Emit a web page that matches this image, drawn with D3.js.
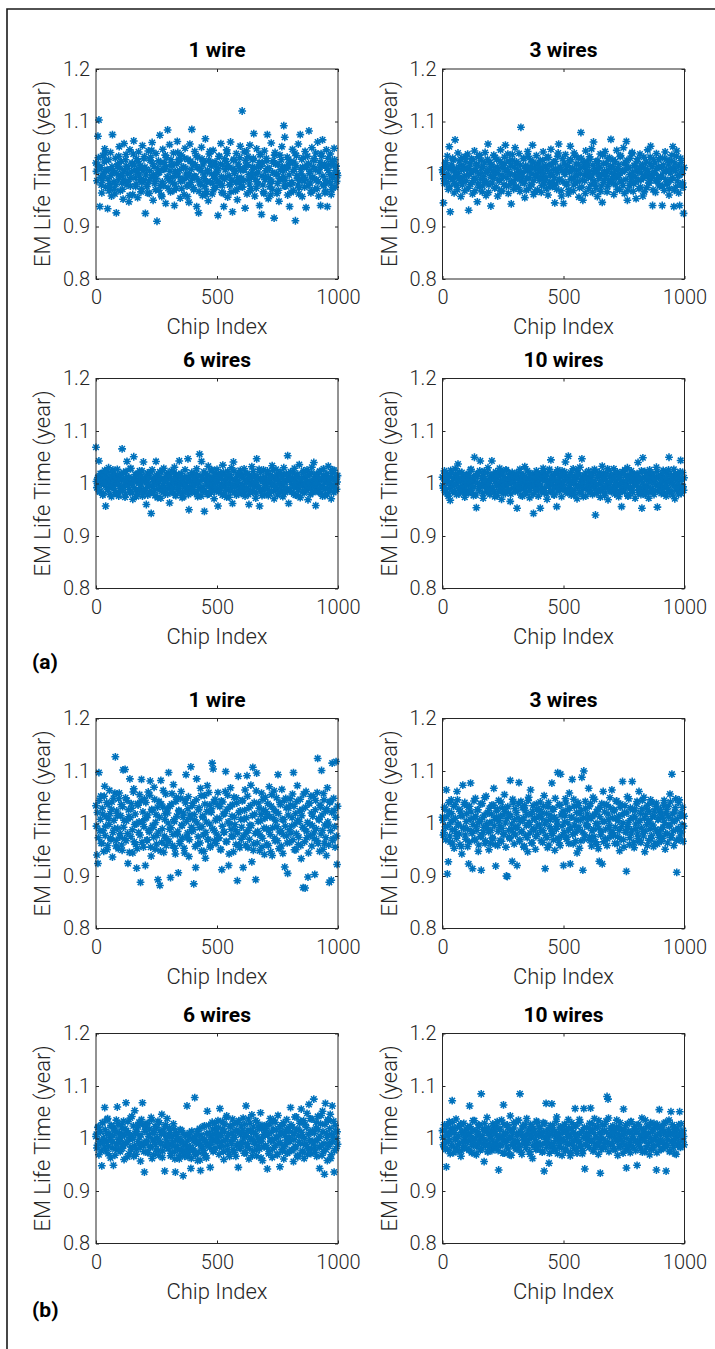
<!DOCTYPE html>
<html>
<head>
<meta charset="utf-8">
<script src="https://cdn.jsdelivr.net/npm/d3@7"></script>
<style>
  body { margin: 0; background: #fff; }
  svg text { font-family: Roboto, "Liberation Sans", Arial, sans-serif; }
</style>
</head>
<body>
<svg id="fig" width="715" height="1349"></svg>
<script>
// ---- data ----
// every panel: one value per 2 chips, kept as two runs
// (chips 0,4,8,... and chips 2,6,10,...)
const panelTitles = ['1 wire', '3 wires', '6 wires', '10 wires'];
const figureLabels = ['(a)', '(b)'];
const yTicks = [0.8, 0.9, 1, 1.1, 1.2];
const xTicks = [0, 500, 1000];
const chipStep = 4;
const chipOffset = [0, 2];

// (a) 1 wire
const a1 = [
  1.021,0.987,1.072,1.103,0.938,1.012,0.964,1.035,0.996,1.048,0.975,1.006,0.934,1.027,0.982,1.041,0.958,1.075,1.003,0.971,1.030,0.926,1.015,0.990,1.052,
  0.968,1.024,1.001,0.952,1.058,0.985,1.037,0.979,1.011,0.947,1.046,0.993,1.019,0.961,1.063,1.008,0.976,1.029,0.955,1.042,0.998,1.016,0.972,1.054,0.989,
  1.033,0.925,1.009,0.981,1.044,0.963,1.026,0.994,1.060,0.950,1.014,0.986,1.039,0.910,1.002,0.969,1.074,1.021,0.957,1.047,0.978,1.010,0.944,1.031,1.084,
  0.992,1.056,0.966,1.018,0.983,1.040,0.940,1.005,0.973,1.062,0.996,1.025,0.954,1.036,0.988,1.013,0.961,1.049,1.000,0.977,1.028,0.946,1.057,0.984,1.085,
  1.020,0.970,1.043,0.995,0.938,1.032,0.926,1.011,0.980,1.051,0.959,1.024,0.991,1.067,0.967,1.007,0.949,1.038,0.985,1.015,0.962,1.045,0.997,1.023,0.975,
  1.004,0.921,1.034,0.982,1.058,0.965,1.017,0.938,1.029,0.993,1.046,0.956,1.012,0.979,1.061,0.988,0.928,1.026,1.001,0.968,1.039,0.951,1.019,0.984,1.053,
  0.976,1.120,1.008,1.042,0.935,1.016,0.962,1.033,0.990,1.055,0.972,1.003,1.027,1.077,0.958,0.999,1.048,0.981,1.014,0.940,1.037,0.923,1.021,0.966,1.044,
  0.995,1.030,1.075,0.953,1.010,0.986,1.059,0.971,1.025,0.916,1.041,0.999,0.963,1.018,0.948,1.036,0.989,1.052,1.006,1.092,1.070,0.977,1.013,0.960,1.028,
  0.938,1.022,0.983,1.047,0.969,1.009,0.911,1.035,0.992,1.057,0.974,1.075,1.000,0.957,1.031,0.987,1.043,0.936,1.017,0.978,1.082,1.005,0.964,1.050,0.994,
  1.026,0.971,1.040,0.989,1.061,0.958,1.012,0.940,1.034,1.065,0.980,1.019,0.967,1.046,0.938,1.007,0.985,1.038,0.961,1.024,0.997,1.049,0.975,1.015,1.002
];
const a1Mid = [
  1.005,1.018,1.031,1.012,0.994,0.979,0.988,1.002,1.023,1.040,1.026,1.009,0.991,0.968,0.975,0.997,1.014,1.006,0.985,0.962,0.980,1.001,1.019,1.034,1.011,
  0.996,0.983,0.971,0.990,1.008,1.027,1.015,1.000,0.986,0.959,0.977,1.004,1.021,1.038,1.017,0.993,0.981,1.003,1.024,1.010,0.989,0.966,0.984,1.007,1.029,
  1.013,0.998,0.976,0.964,0.987,1.006,1.032,1.045,1.020,0.999,0.982,0.970,0.992,1.011,1.025,1.003,0.978,0.960,0.985,1.009,1.022,1.036,1.014,0.995,0.973,
  0.988,1.005,1.027,1.016,0.994,0.969,0.981,1.002,1.019,1.041,1.028,1.007,0.986,0.972,0.990,1.013,1.030,1.011,0.993,0.957,0.979,1.000,1.024,1.009,0.991,
  0.974,0.996,1.018,1.035,1.012,0.989,0.967,0.983,1.006,1.029,1.017,0.998,0.976,0.961,0.985,1.004,1.026,1.043,1.021,1.000,0.982,0.970,0.992,1.015,1.003,
  0.987,1.010,1.033,1.019,0.995,0.978,0.963,0.990,1.008,1.024,1.039,1.016,0.997,0.980,0.966,0.988,1.011,1.028,1.005,0.984,0.971,0.993,1.014,1.031,1.007,
  0.992,0.975,0.987,1.009,1.026,1.044,1.018,0.999,0.981,0.968,0.994,1.013,1.030,1.012,0.990,0.973,0.985,1.004,1.022,1.037,1.015,0.996,0.979,0.963,0.989,
  1.006,1.025,1.011,0.993,0.976,0.960,0.986,1.003,1.021,1.036,1.019,1.001,0.982,0.969,0.991,1.008,1.027,1.014,0.995,0.977,0.988,1.010,1.032,1.017,0.998,
  0.980,0.965,0.984,1.005,1.023,1.040,1.016,0.997,0.979,0.962,0.987,1.009,1.028,1.013,0.994,0.975,0.990,1.012,1.034,1.020,1.001,0.983,0.968,0.992,1.014,
  1.029,1.008,0.989,0.972,0.985,1.004,1.022,1.039,1.015,0.996,0.978,0.964,0.988,1.011,1.030,1.018,0.999,0.981,0.970,0.993,1.016,1.027,1.006,0.986,0.997
];
// (a) 3 wires
const a3 = [
  1.008,0.945,0.982,1.021,0.996,1.034,0.971,1.052,0.928,1.013,0.989,1.027,0.964,1.065,1.002,0.978,1.040,0.993,1.016,0.957,1.031,0.986,1.009,0.968,1.024,
  0.997,1.038,0.931,1.011,0.980,1.029,0.962,1.005,1.044,0.990,1.019,0.947,1.033,0.975,1.001,1.026,0.966,1.014,0.984,1.041,0.959,1.007,1.057,0.979,1.022,
  0.939,1.015,0.992,1.036,0.973,1.004,1.028,0.958,1.010,0.987,1.046,0.969,1.018,0.995,1.032,1.055,0.977,1.009,0.963,1.025,0.999,0.943,1.037,0.983,1.013,
  1.050,0.976,1.020,0.994,1.039,0.967,1.089,1.003,0.985,1.030,0.955,1.016,0.991,1.043,0.972,1.008,1.027,0.980,1.055,0.961,1.012,0.998,1.035,0.970,1.019,
  0.988,1.026,0.965,1.006,1.042,0.981,1.014,0.993,1.031,0.960,1.017,0.976,1.047,1.000,0.984,1.023,0.945,1.010,0.971,1.034,1.057,0.989,1.012,0.958,1.029,
  0.944,1.003,1.037,0.979,1.015,0.962,1.025,1.053,0.990,1.008,0.968,1.040,0.983,1.019,0.997,1.031,0.956,1.011,1.079,0.975,0.950,1.022,0.987,1.044,1.002,
  1.016,0.972,1.033,0.993,1.048,0.965,1.061,1.007,0.981,1.024,0.957,1.012,0.996,1.038,0.977,0.946,1.020,0.988,1.043,1.001,0.966,1.029,0.984,1.014,1.066,
  0.992,1.027,0.961,1.009,0.980,1.045,0.999,1.018,0.970,1.035,0.987,1.006,1.050,0.963,1.021,1.062,0.950,1.012,0.978,1.030,0.995,1.041,0.967,1.016,0.985,
  0.953,1.024,1.004,0.972,1.038,0.989,1.015,0.958,1.032,0.997,1.010,0.974,1.046,0.983,1.020,1.053,0.991,0.940,1.028,1.003,0.965,1.039,0.986,1.013,0.977,
  1.031,0.994,0.940,1.017,0.969,1.042,1.005,0.981,1.026,0.960,1.011,0.988,1.036,1.052,0.938,1.021,0.975,1.044,0.997,0.964,0.940,1.030,1.008,0.983,0.925
];
const a3Mid = [
  1.003,0.991,1.014,1.022,0.985,0.998,1.009,0.976,0.993,1.017,1.030,1.006,0.982,0.995,1.011,0.970,1.001,1.025,0.988,1.008,0.979,1.015,0.996,1.033,0.987,
  1.010,0.973,0.999,1.019,1.004,0.984,1.027,0.992,0.968,1.007,1.016,0.981,1.000,1.036,0.990,1.012,0.977,0.995,1.021,1.003,0.986,1.028,0.965,1.009,0.997,
  1.018,0.983,1.006,0.994,1.031,0.975,1.013,1.001,0.989,1.024,0.967,0.998,1.011,0.980,1.020,1.005,0.992,1.038,0.978,1.002,1.015,0.986,1.026,0.971,0.999,
  0.990,1.023,1.008,0.974,1.002,1.017,0.987,0.996,1.029,0.982,1.011,0.969,1.005,1.034,0.993,1.014,0.979,1.000,1.022,0.988,0.966,1.010,0.997,1.019,1.004,
  1.012,0.995,0.978,1.026,1.001,0.989,1.015,0.972,1.007,1.032,0.984,0.998,1.018,0.976,1.009,0.993,1.024,0.981,1.003,1.040,0.990,1.013,0.968,1.006,0.985,
  1.021,0.999,1.008,0.983,1.016,0.970,1.004,1.027,0.992,1.011,0.979,1.035,0.996,1.007,0.986,1.019,0.974,1.001,1.030,0.988,1.014,0.997,0.963,1.009,1.023,
  0.994,1.005,1.028,0.980,0.998,1.017,0.987,1.010,0.973,1.003,1.025,0.991,1.013,0.967,1.000,1.036,0.984,1.006,0.995,1.020,0.976,1.008,1.031,0.989,1.002,
  1.015,0.982,1.001,1.024,0.993,0.971,1.010,0.997,1.033,0.986,1.004,0.978,1.019,1.007,0.990,1.026,0.969,1.012,0.999,0.985,1.039,1.003,0.981,1.016,0.994,
  1.007,1.029,0.988,1.011,0.975,1.002,1.018,0.992,0.966,1.009,1.023,0.996,1.005,0.983,1.032,0.998,1.014,0.970,1.001,1.021,0.987,1.010,0.994,1.027,0.979,
  0.996,1.013,0.977,1.004,1.030,0.990,1.008,0.984,1.019,0.972,1.002,1.025,0.993,1.011,0.969,1.006,1.034,0.987,1.015,0.998,0.980,1.022,1.001,0.975,1.012
];
// (a) 6 wires
const a6 = [
  1.069,0.992,1.011,1.043,0.984,1.006,1.019,0.978,1.002,1.025,0.957,1.013,0.989,1.030,0.997,1.008,0.975,1.021,0.994,1.004,1.016,0.981,1.027,0.999,1.010,
  0.986,1.018,1.066,0.993,1.007,0.974,1.023,1.042,0.996,1.012,0.983,1.029,1.001,0.970,1.051,1.009,0.988,1.017,0.979,1.003,1.024,0.991,1.014,0.976,1.041,
  1.005,0.987,0.960,1.020,0.998,1.011,0.982,0.943,1.026,0.994,1.008,0.977,1.042,1.015,0.990,1.003,1.022,0.972,1.010,0.996,1.029,0.985,1.006,1.018,0.980,
  1.012,0.963,0.999,1.024,0.988,1.007,1.031,0.978,1.016,0.993,1.002,1.043,0.984,1.019,0.973,1.009,0.995,1.026,0.986,1.013,1.047,0.950,1.004,0.991,1.021,
  0.997,1.015,0.982,1.008,1.028,0.975,1.001,1.056,0.990,1.042,1.012,0.986,0.947,1.019,1.005,0.979,1.033,0.994,1.010,0.983,1.024,1.000,0.971,1.016,0.992,
  1.027,0.957,1.009,0.987,1.020,0.996,1.035,0.980,1.006,1.014,0.974,1.023,0.998,1.011,0.985,1.030,0.962,1.041,0.993,1.007,0.978,1.018,1.002,0.989,1.025,
  0.981,1.013,0.995,1.028,0.976,1.004,1.019,0.988,0.960,1.010,0.997,1.032,0.983,1.015,1.001,0.972,1.047,1.008,0.992,0.957,1.021,0.985,1.006,1.026,0.979,
  1.011,0.994,1.024,0.977,1.003,1.016,0.986,1.034,0.999,0.971,1.012,1.027,0.990,1.007,0.982,1.020,0.996,1.013,0.975,1.030,1.002,0.987,1.017,1.053,0.962,
  1.005,1.022,0.984,1.010,0.993,1.029,0.978,1.014,1.000,0.988,1.036,0.973,1.008,0.995,1.021,0.982,1.012,0.997,1.026,0.969,1.004,1.017,0.990,1.031,0.983,
  1.040,0.996,0.958,1.018,1.007,0.985,1.023,0.992,1.011,0.976,1.028,1.001,0.989,1.015,0.980,1.033,0.998,1.009,0.971,1.020,0.994,1.025,0.986,1.013,1.003
];
const a6Mid = [
  1.004,0.993,1.012,0.985,1.019,0.998,1.007,0.981,1.015,0.995,1.002,1.023,0.988,1.009,0.979,1.014,0.997,1.026,0.990,1.006,0.983,1.011,1.000,0.976,1.017,
  0.994,1.008,0.986,1.021,1.001,0.979,1.013,0.996,1.005,0.989,1.028,0.999,0.982,1.010,0.992,1.017,0.975,1.003,1.019,0.987,1.008,0.997,1.024,0.984,1.006,
  1.011,0.990,1.003,0.978,1.016,0.995,1.022,0.983,1.007,0.999,0.987,1.013,1.002,0.973,1.018,0.993,1.009,0.985,1.025,0.996,1.004,0.980,1.012,0.991,1.020,
  0.997,1.014,0.983,1.006,0.992,1.021,1.000,0.977,1.010,0.988,1.017,0.995,1.004,0.981,1.012,0.975,1.001,0.986,0.996,1.008,0.979,0.992,1.015,0.984,1.005,
  0.989,1.011,0.998,1.019,0.982,1.003,0.992,1.014,0.976,1.007,0.994,1.022,0.986,1.009,0.999,1.016,0.980,1.004,0.991,1.026,0.997,1.010,0.985,1.002,1.018,
  1.006,0.984,1.015,0.996,1.009,0.978,1.021,0.993,1.003,0.987,1.013,1.000,0.974,1.017,0.990,1.008,0.998,1.024,0.983,1.011,0.995,1.005,0.981,1.019,0.992,
  1.013,0.997,0.985,1.008,1.020,0.991,1.004,0.979,1.016,0.999,1.010,0.986,1.023,0.994,1.002,0.982,1.014,0.996,1.027,0.988,1.007,0.977,1.011,1.000,0.990,
  1.002,1.018,0.989,1.006,0.981,1.012,0.997,1.025,0.985,1.008,0.993,1.016,0.978,1.004,0.999,1.021,0.987,1.010,0.995,1.003,0.983,1.019,0.991,1.008,1.014,
  0.986,1.009,0.998,1.022,0.980,1.005,1.013,0.992,1.018,0.976,1.002,0.995,1.011,0.984,1.024,0.999,1.007,0.988,1.015,0.993,1.001,0.979,1.020,0.996,1.006,
  1.010,0.991,1.017,0.985,1.004,0.998,1.023,0.982,1.009,0.994,1.014,0.977,1.006,1.019,0.990,1.003,0.987,1.012,0.996,1.026,0.983,1.008,1.000,0.989,1.015
];
// (a) 10 wires
const a10 = [
  1.012,0.991,1.024,0.983,1.005,1.017,0.976,1.002,0.968,1.020,0.995,1.009,0.986,1.028,0.999,1.014,1.037,0.980,1.007,0.993,1.021,0.988,1.011,0.974,1.003,
  0.996,1.016,0.982,1.008,1.026,0.990,1.004,0.977,1.050,1.013,0.954,1.001,1.019,0.987,1.043,0.998,1.010,0.972,1.023,0.994,1.006,0.984,1.030,1.000,0.979,
  1.015,1.043,0.989,1.007,0.975,1.022,0.997,1.011,0.985,1.029,1.003,0.970,1.018,0.993,1.008,0.981,1.025,1.000,0.988,1.014,0.966,1.006,1.021,0.992,1.002,
  0.985,1.019,0.953,1.009,0.996,1.027,0.978,1.004,1.015,0.990,1.032,0.982,1.010,0.999,1.021,0.973,1.006,0.994,1.017,0.943,1.012,0.987,1.024,1.001,0.976,
  1.008,0.953,1.018,0.991,1.029,0.983,1.005,1.014,0.970,0.997,1.023,1.002,1.045,0.986,1.011,0.979,1.019,0.995,0.956,1.026,1.004,0.989,1.013,0.975,1.016,
  0.998,1.022,1.041,0.984,1.009,1.052,0.992,1.017,0.978,1.006,1.028,0.987,1.000,1.013,0.971,1.020,0.995,1.031,0.982,1.047,1.003,0.990,1.015,0.976,1.010,
  0.993,1.024,0.985,1.007,1.016,0.979,1.001,1.027,0.940,0.996,1.012,0.988,1.021,0.974,1.005,1.033,0.991,1.010,0.982,1.018,0.999,0.969,1.025,1.003,0.986,
  1.014,0.992,1.028,0.980,1.006,0.997,1.019,0.975,1.011,0.989,0.956,1.022,1.002,0.984,1.015,0.996,1.030,0.977,1.008,0.993,1.024,0.987,1.004,1.017,0.972,
  1.001,1.019,1.040,0.988,1.011,0.979,0.953,1.049,0.995,1.023,0.983,1.007,1.014,0.972,1.026,0.990,1.004,1.018,0.985,1.009,0.997,1.031,0.955,1.012,0.993,
  1.016,0.981,1.006,1.025,0.994,1.010,0.976,1.020,0.989,1.050,1.003,0.985,1.013,0.998,1.027,0.971,1.008,0.992,1.018,0.980,1.011,1.044,0.995,1.021,0.987
];
const a10Mid = [
  0.996,1.009,1.020,0.988,1.003,0.981,1.014,0.993,1.025,1.001,0.984,1.011,0.997,1.018,0.979,1.006,0.991,1.022,1.004,0.986,1.013,0.995,1.008,0.982,1.017,
  1.002,0.987,1.015,0.999,1.027,0.983,1.006,0.994,1.012,0.978,1.019,1.001,0.990,1.024,0.996,1.009,0.981,1.014,0.998,1.005,0.985,1.021,0.993,1.010,0.988,
  1.007,0.992,1.018,0.984,1.011,1.000,0.977,1.016,0.995,1.023,0.989,1.004,0.982,1.013,0.997,1.026,0.986,1.008,0.999,1.019,0.980,1.002,1.015,0.991,1.010,
  0.994,1.012,0.985,1.021,1.003,0.990,1.009,0.976,1.016,0.998,1.006,0.983,1.024,0.993,1.011,0.987,1.001,1.018,0.979,1.005,0.996,1.014,0.988,1.020,1.000,
  1.013,0.997,0.984,1.008,1.022,0.991,1.015,0.980,1.004,0.995,1.027,0.986,1.010,0.999,1.017,0.978,1.006,0.992,1.019,1.002,0.985,1.012,0.996,1.024,0.989,
  1.005,1.018,0.990,1.011,0.982,1.003,0.997,1.021,0.986,1.014,1.000,0.979,1.008,1.025,0.993,1.016,0.984,1.007,0.998,1.013,0.975,1.009,1.020,0.992,1.002,
  0.988,1.011,1.001,0.983,1.019,0.995,1.006,0.990,1.023,0.981,1.012,0.999,1.016,0.986,1.004,0.993,1.020,0.977,1.010,0.996,1.028,0.989,1.003,1.015,0.984,
  1.009,0.994,1.017,0.987,1.002,1.022,0.980,1.012,0.997,1.005,0.985,1.018,0.992,1.026,0.999,1.008,0.976,1.014,0.990,1.003,1.019,0.983,1.011,0.996,1.007,
  0.997,1.015,0.983,1.006,0.992,1.024,1.001,0.987,1.013,0.978,1.009,0.995,1.020,0.984,1.003,1.017,0.991,1.011,0.979,1.007,0.998,1.023,0.986,1.012,1.000,
  1.014,0.989,1.005,1.021,0.982,0.999,1.010,0.993,1.026,0.985,1.004,1.016,0.978,1.008,0.996,1.019,0.987,1.013,1.001,0.990,1.022,0.981,1.007,0.994,1.011
];
// (b) 1 wire
const b1 = [
  1.034,0.940,0.924,1.097,0.986,1.052,0.963,1.018,0.947,1.071,0.995,1.040,0.958,1.009,1.063,0.972,1.027,0.936,1.048,0.990,1.127,0.968,1.015,0.952,1.058,
  0.981,1.036,0.949,1.102,1.006,1.103,0.967,1.044,0.924,1.013,1.085,0.975,1.029,0.944,1.066,0.998,0.960,0.915,1.038,0.983,1.055,0.888,1.084,1.002,0.955,
  1.047,0.920,1.011,0.969,1.060,0.984,1.081,0.938,1.025,0.993,1.069,0.951,1.017,0.977,0.893,1.042,0.882,1.082,0.964,1.031,0.945,1.008,1.056,0.971,1.020,
  1.097,0.989,0.897,1.037,0.958,1.074,1.004,0.942,1.050,0.979,0.906,1.023,0.966,1.061,0.996,1.012,0.953,1.045,1.093,0.974,1.028,0.937,1.016,1.108,0.985,
  1.039,0.885,1.007,0.916,1.085,0.961,1.026,0.992,1.067,0.948,1.014,0.978,1.053,0.934,1.003,1.072,0.969,1.035,0.955,1.021,1.115,1.104,0.987,1.046,0.962,
  1.010,1.059,0.973,1.032,0.950,0.912,1.041,0.983,1.019,1.099,0.965,1.054,0.920,1.000,1.068,0.976,1.036,0.946,1.012,0.988,1.049,0.891,1.090,0.959,1.024,
  0.970,1.043,0.916,1.008,1.064,0.982,1.091,0.954,1.030,0.997,1.073,0.927,1.107,0.961,1.018,0.893,1.096,0.985,1.039,0.948,1.005,1.058,0.972,1.026,0.941,
  1.050,0.991,1.017,0.958,1.070,0.979,1.033,0.939,1.011,1.062,0.967,1.022,0.994,1.093,0.952,1.040,0.986,1.065,0.943,1.007,0.917,1.048,0.976,0.905,1.029,
  0.964,1.035,0.995,1.056,1.097,0.950,1.019,0.981,1.072,0.960,1.004,1.046,0.933,1.027,0.878,0.990,0.877,1.061,0.973,0.898,1.038,0.999,1.052,0.957,1.014,
  0.982,0.903,1.044,0.968,1.124,1.009,0.947,1.031,1.101,0.987,1.057,0.962,1.023,0.939,1.068,0.996,0.888,1.042,0.892,1.115,0.971,1.025,0.955,1.118,0.922
];
const b1Mid = [
  0.995,1.021,0.973,1.044,1.008,0.962,1.029,0.986,1.052,0.977,1.013,0.950,1.036,0.998,1.019,0.969,1.041,0.983,1.006,1.058,0.957,1.024,0.991,1.047,0.974,
  1.015,0.959,1.032,0.993,0.971,1.049,1.005,0.981,1.026,0.945,1.011,1.038,0.988,1.060,0.965,1.018,0.999,0.952,1.035,1.003,0.978,1.043,0.964,1.022,0.994,
  1.009,1.040,0.968,1.016,0.987,1.054,0.955,1.027,0.996,0.974,1.046,1.002,0.961,1.031,0.984,1.012,0.948,1.037,0.990,1.063,0.976,1.019,0.958,1.028,1.001,
  0.966,1.033,0.992,1.057,0.979,1.007,0.953,1.042,1.014,0.985,1.025,0.962,1.048,0.997,0.973,1.020,0.944,1.039,1.004,0.982,1.051,0.969,1.010,0.993,1.034,
  0.988,1.017,0.956,1.045,1.001,0.975,1.030,0.963,1.053,0.994,1.012,0.947,1.037,0.983,1.023,0.970,1.059,0.999,0.958,1.028,0.990,1.041,0.967,1.006,0.980,
  1.036,0.972,1.009,0.951,1.043,0.995,1.018,0.984,1.061,0.966,1.027,1.003,0.942,1.032,0.989,1.014,0.975,1.050,0.998,0.960,1.039,0.982,1.021,0.954,1.008,
  0.993,1.044,0.976,1.025,0.959,1.011,1.052,0.987,0.970,1.034,0.996,1.015,0.949,1.040,0.981,1.062,0.963,1.004,1.029,0.978,1.017,0.955,1.046,0.991,1.010,
  1.023,0.961,1.038,0.986,1.013,0.946,1.055,0.992,1.027,0.972,1.005,1.049,0.967,1.019,0.984,1.036,0.957,1.008,0.979,1.044,0.995,1.030,0.963,1.016,0.988,
  1.047,0.982,1.011,0.969,1.033,0.999,0.950,1.042,1.006,0.974,1.024,0.958,1.015,0.993,1.056,0.965,1.031,0.985,1.002,0.944,1.039,0.977,1.020,0.996,1.052,
  0.971,1.026,0.990,1.059,0.962,1.007,1.035,0.980,1.016,0.951,1.045,0.997,0.973,1.028,1.003,0.959,1.040,0.986,1.021,0.968,1.048,0.994,1.012,0.976,1.033
];
// (b) 3 wires
const b3 = [
  1.012,0.978,1.031,0.994,1.064,0.904,0.927,1.022,0.965,1.045,0.988,1.007,0.953,1.036,0.981,1.061,0.999,1.027,0.960,1.015,0.942,1.073,0.991,1.040,0.970,
  1.019,0.956,0.923,1.033,1.077,0.985,0.914,1.010,0.968,1.048,0.995,1.026,0.947,1.004,0.975,0.911,1.038,0.983,1.016,0.962,1.052,0.992,1.021,0.950,1.002,
  0.987,1.035,0.971,1.067,1.008,0.919,1.024,0.958,1.044,0.996,1.013,0.966,1.030,0.980,1.055,1.001,0.900,0.899,1.019,0.974,1.082,0.990,0.928,1.039,0.961,
  1.028,0.993,0.920,1.011,1.078,0.969,1.042,0.984,1.006,0.955,1.034,0.977,1.017,0.946,1.050,0.998,1.064,0.963,1.023,0.988,1.009,0.951,1.037,0.979,1.014,
  0.997,1.041,0.967,1.020,0.986,1.053,0.914,1.005,0.973,1.032,0.959,1.016,0.990,1.077,0.981,1.027,0.949,1.008,0.995,1.097,0.964,1.036,1.094,0.976,1.018,
  0.920,1.003,1.047,0.970,1.025,0.987,1.058,0.923,1.012,1.084,0.961,1.033,0.982,1.007,0.944,1.040,0.993,1.019,0.967,1.088,0.911,1.100,0.978,1.029,0.996,
  1.010,1.067,0.974,1.038,0.957,1.015,0.989,1.046,0.965,1.022,0.999,0.952,0.928,1.031,0.984,0.923,1.061,1.004,0.971,1.035,0.958,1.018,0.992,1.049,0.976,
  1.064,0.983,1.026,0.962,1.009,1.043,0.975,1.014,0.948,1.037,0.994,1.080,0.969,1.021,0.986,0.909,1.051,1.002,0.960,1.030,0.980,1.080,1.011,0.954,1.025,
  0.990,1.042,0.972,1.061,1.006,0.964,1.028,0.985,1.050,0.946,1.017,0.998,1.035,0.968,1.003,1.045,0.977,1.013,0.956,1.024,0.989,1.039,0.961,1.008,0.982,
  1.027,0.966,1.010,0.993,1.044,0.951,1.019,0.980,1.033,0.997,1.056,0.973,1.094,1.006,0.958,1.022,1.047,0.907,0.988,1.040,0.969,1.015,0.984,1.031,0.995
];
const b3Mid = [
  1.006,0.983,1.027,0.969,1.013,0.995,1.040,0.976,1.002,1.019,0.961,1.033,0.988,1.010,0.972,1.045,0.997,0.980,1.024,0.956,1.015,0.992,1.036,0.978,1.004,
  0.990,1.031,0.965,1.008,1.022,0.981,0.998,1.043,0.970,1.014,0.987,1.026,0.959,1.003,1.037,0.976,1.011,0.993,1.049,0.967,1.000,1.020,0.984,1.029,0.962,
  1.018,0.974,1.035,0.996,0.960,1.012,1.028,0.985,1.005,0.968,1.041,0.991,1.016,0.979,1.023,0.955,1.009,1.032,0.987,0.971,1.014,0.999,1.046,0.982,1.007,
  0.978,1.021,0.993,1.038,0.966,1.004,0.985,1.030,1.011,0.957,1.025,0.996,0.973,1.044,1.002,0.982,1.017,0.963,1.034,0.990,1.008,0.975,1.027,0.997,1.013,
  1.026,0.986,1.010,0.964,1.033,0.999,0.977,1.019,0.954,1.040,0.994,1.007,0.981,1.028,0.969,1.012,1.048,0.989,1.003,0.972,1.035,0.958,1.016,0.995,1.024,
  0.983,1.015,1.039,0.974,1.001,0.962,1.029,0.992,1.012,0.979,1.046,0.997,0.967,1.021,0.988,1.034,0.953,1.006,1.025,0.984,1.011,0.970,1.042,0.999,1.018,
  0.994,1.032,0.968,1.009,0.986,1.050,0.975,1.017,1.000,0.960,1.027,0.991,1.013,0.978,1.038,1.004,0.965,1.022,0.989,1.036,0.971,1.007,0.996,1.030,0.982,
  1.011,0.977,1.024,0.993,1.042,0.961,1.005,0.987,1.031,0.970,1.016,1.001,0.955,1.034,0.983,1.020,0.994,1.047,0.973,1.009,0.988,1.026,0.964,1.013,0.999,
  1.037,0.980,1.003,0.966,1.019,0.992,1.044,0.976,1.010,0.985,1.029,0.958,1.006,1.023,0.990,0.971,1.039,0.997,1.015,0.962,1.032,0.984,1.008,0.974,1.021,
  0.989,1.016,0.972,1.035,1.002,0.981,1.026,0.963,1.012,0.995,1.041,0.978,1.018,0.986,1.004,1.030,0.968,1.009,0.991,1.045,0.976,1.020,0.998,0.966,1.014
];
// (b) 6 wires
const b6 = [
  1.004,0.982,1.021,0.969,1.013,0.991,0.948,1.030,0.996,1.059,0.977,1.010,1.038,0.985,1.002,0.963,1.024,0.993,0.949,1.016,0.980,1.035,1.060,0.998,1.011,
  0.975,1.027,0.988,1.008,0.960,1.019,1.068,0.994,1.032,0.971,1.006,0.984,1.042,0.999,0.966,1.053,1.014,0.979,1.025,0.990,1.003,0.957,1.036,1.068,0.986,
  0.936,1.017,0.995,1.029,0.973,1.007,0.983,1.040,0.962,1.012,0.997,1.023,0.978,1.001,1.033,0.968,1.015,0.989,1.046,0.976,1.009,0.938,1.026,0.992,1.004,
  0.981,1.020,0.967,1.005,0.993,1.028,0.974,0.936,1.011,0.986,1.000,0.961,1.017,0.979,0.995,0.929,1.008,0.972,0.988,1.062,0.965,1.003,0.983,0.943,1.014,
  0.977,0.996,1.078,0.969,1.006,0.958,0.990,1.019,0.939,0.984,1.001,0.971,1.024,0.992,0.963,1.052,0.987,1.010,0.945,0.998,1.031,0.975,1.008,0.982,1.020,
  0.994,1.034,0.970,1.057,1.005,0.985,1.018,0.960,1.027,0.997,1.043,0.978,1.009,0.966,1.022,0.990,1.037,1.002,0.974,1.014,0.987,1.030,0.945,1.011,0.981,
  1.024,0.993,1.039,0.972,1.007,1.062,0.984,1.016,0.961,1.029,0.998,1.045,0.976,1.012,0.989,1.034,0.967,1.003,1.021,0.980,1.049,0.995,0.958,1.019,1.008,
  0.987,1.026,0.942,1.010,0.975,1.038,0.997,0.964,1.018,0.983,1.031,1.002,0.970,1.044,0.991,0.946,1.013,0.979,1.025,0.961,1.006,0.988,1.036,0.973,1.015,
  0.999,1.059,0.977,1.022,0.956,1.009,0.985,1.041,0.968,1.016,0.993,1.033,1.056,0.974,1.004,0.962,1.027,0.989,1.048,0.980,1.065,1.011,0.971,1.037,0.995,
  1.075,0.983,1.020,0.966,1.042,1.001,0.943,1.028,0.987,1.052,0.975,0.932,1.067,1.010,0.958,1.034,0.992,1.046,0.969,1.062,1.003,0.936,1.025,0.981,1.013
];
const b6Mid = [
  1.008,0.987,1.022,0.995,1.013,0.976,1.030,1.001,0.984,1.017,0.993,1.036,0.971,1.010,0.998,1.025,0.982,1.005,1.019,0.968,1.012,0.990,1.028,0.979,1.003,
  0.996,1.020,0.981,1.033,1.006,0.989,1.015,0.965,1.011,0.999,1.039,0.978,1.002,1.024,0.986,1.009,0.970,1.018,0.994,1.031,0.983,1.007,0.991,1.026,0.975,
  1.014,0.992,1.027,0.973,1.004,1.018,0.985,1.035,0.997,0.969,1.011,0.988,1.021,1.000,0.977,1.030,0.994,1.008,0.964,1.016,0.986,1.023,0.999,1.038,0.981,
  0.990,1.012,0.972,1.004,0.985,1.019,0.961,0.997,1.008,0.979,1.001,0.968,0.993,1.015,0.976,0.988,0.966,1.006,0.982,0.995,0.973,1.011,0.984,0.962,0.999,
  0.980,1.003,0.969,0.991,1.014,0.974,0.996,0.959,1.007,0.985,1.022,0.977,0.998,0.967,1.010,0.989,1.025,0.983,1.005,0.992,1.018,0.978,1.029,0.997,1.012,
  1.001,1.021,0.984,1.009,0.993,1.032,0.975,1.014,0.998,1.040,0.987,1.006,0.970,1.024,0.995,1.011,0.979,1.028,1.002,0.966,1.016,0.991,1.034,0.982,1.007,
  0.988,1.015,0.999,1.027,0.973,1.005,0.990,1.037,0.981,1.013,1.000,0.967,1.022,0.994,1.009,0.978,1.031,0.986,1.018,0.996,0.963,1.025,1.003,0.984,1.011,
  1.019,0.983,1.006,0.971,1.028,0.995,1.012,0.980,1.035,0.999,0.987,1.016,0.969,1.004,1.023,0.992,1.009,0.976,1.030,0.985,1.014,0.997,0.972,1.020,1.002,
  0.994,1.026,0.979,1.010,0.998,1.041,0.982,1.017,0.965,1.005,1.029,0.990,1.012,0.976,1.034,1.000,0.987,1.021,0.970,1.008,0.996,1.038,0.981,1.015,0.992,
  1.010,0.974,1.031,0.996,1.017,0.983,1.004,1.044,0.968,1.013,0.991,1.027,0.979,1.002,1.036,0.985,1.019,0.962,1.008,0.994,1.033,0.977,1.014,1.000,0.989
];
// (b) 10 wires
const b10 = [
  1.015,0.988,1.026,0.979,0.946,1.008,0.994,1.032,0.971,1.011,1.072,0.985,1.019,0.998,1.037,0.976,1.004,0.990,1.023,0.966,1.012,0.983,1.029,0.997,1.007,
  0.981,1.021,0.995,1.062,1.009,0.973,1.016,0.987,1.034,1.001,0.969,1.013,0.992,1.025,0.978,1.085,1.006,0.989,0.956,1.018,0.996,1.040,0.975,1.010,0.985,
  1.003,0.977,1.028,0.991,1.014,0.982,1.022,0.999,0.940,1.017,0.986,1.035,1.005,1.064,0.972,1.010,0.993,1.026,0.980,1.002,1.043,0.968,1.012,0.989,1.020,
  0.994,1.031,0.979,1.008,0.985,1.085,1.013,0.970,1.024,0.997,1.004,0.983,1.038,0.992,1.016,0.975,1.027,1.001,0.962,1.019,0.988,1.009,1.033,0.980,1.006,
  1.022,0.987,1.011,0.974,1.030,0.938,1.002,1.067,0.993,1.018,0.953,1.008,0.984,1.066,1.025,0.978,1.014,0.996,1.041,0.971,1.007,0.990,1.021,0.982,1.012,
  0.998,1.027,0.976,1.015,0.989,1.036,1.004,0.967,1.019,0.993,1.010,0.981,1.057,1.024,0.972,1.006,0.995,1.031,0.985,1.013,0.977,1.057,0.942,1.002,1.020,
  0.986,1.009,1.029,1.058,0.994,1.017,0.979,1.038,1.003,0.988,1.022,0.970,1.011,0.934,0.999,1.026,0.983,1.014,0.991,1.033,1.080,1.075,0.975,1.008,1.019,
  0.990,1.024,0.981,1.012,0.997,1.035,0.968,1.005,1.020,0.985,1.016,0.994,1.056,1.009,0.978,0.944,1.028,0.987,1.011,0.973,1.032,1.001,0.983,1.018,0.996,
  1.013,0.949,1.026,0.992,1.007,0.980,1.039,0.998,1.017,0.975,1.004,1.023,0.986,1.010,0.969,1.030,0.995,1.014,0.982,1.021,1.001,0.940,1.027,0.988,1.055,
  1.006,0.979,1.018,0.993,1.029,0.984,0.938,1.011,0.997,1.035,0.976,1.051,1.008,0.990,1.022,0.971,1.015,1.002,0.987,1.026,1.051,0.983,1.012,0.995,1.004
];
const b10Mid = [
  1.002,0.985,1.016,0.994,1.025,0.979,1.008,0.997,1.019,0.987,1.031,0.973,1.011,0.999,0.982,1.021,1.004,0.990,1.028,0.976,1.013,0.995,1.006,0.983,1.018,
  0.993,1.010,0.978,1.023,1.001,0.988,1.034,0.996,0.971,1.015,0.984,1.007,1.026,0.992,1.003,0.980,1.017,0.998,1.029,0.986,1.012,0.975,1.020,0.991,1.005,
  1.014,0.997,1.024,0.982,1.009,0.991,1.032,0.977,1.004,1.018,0.989,1.000,0.972,1.027,0.995,1.011,0.984,1.021,0.999,0.969,1.016,1.003,0.987,1.030,0.993,
  0.981,1.008,0.996,1.035,0.988,1.012,0.974,1.020,1.002,0.990,1.027,0.983,1.009,0.997,1.016,0.970,1.005,1.023,0.986,1.014,0.998,0.979,1.031,0.992,1.007,
  1.019,0.989,1.004,0.976,1.013,1.029,0.994,0.983,1.010,1.001,0.972,1.025,0.991,1.017,0.986,1.006,0.978,1.033,0.997,1.011,0.984,1.022,1.000,0.968,1.015,
  0.995,1.026,0.980,1.008,0.992,1.019,1.003,0.974,1.030,0.987,1.012,0.998,1.024,0.981,1.007,0.993,1.036,0.985,1.014,0.971,1.002,1.021,0.989,1.010,0.996,
  1.005,0.983,1.017,0.997,1.028,0.976,1.011,0.990,1.022,1.001,0.985,1.034,0.993,1.008,0.979,1.015,0.999,1.026,0.982,1.012,0.994,1.039,1.004,0.988,1.020,
  0.991,1.013,1.002,0.978,1.021,0.995,1.009,0.984,1.030,0.997,1.006,0.972,1.018,0.988,1.025,1.000,0.980,1.014,0.993,1.032,0.986,1.007,0.999,1.023,0.977,
  1.016,0.992,1.027,0.985,1.003,1.019,0.974,1.010,0.996,1.035,0.982,1.008,0.991,1.024,1.001,0.979,1.013,0.987,1.029,0.998,1.006,0.973,1.020,0.994,1.011,
  0.997,1.022,0.981,1.012,0.990,1.031,1.004,0.986,1.017,0.975,1.009,0.995,1.026,0.983,1.014,1.000,0.970,1.018,0.992,1.007,0.984,1.028,0.998,1.015,0.988
];

const panels = [
  { runs: [a1, a1Mid],   title: panelTitles[0], col: 0, row: 0 },
  { runs: [a3, a3Mid],   title: panelTitles[1], col: 1, row: 0 },
  { runs: [a6, a6Mid],   title: panelTitles[2], col: 0, row: 1 },
  { runs: [a10, a10Mid], title: panelTitles[3], col: 1, row: 1 },
  { runs: [b1, b1Mid],   title: panelTitles[0], col: 0, row: 2 },
  { runs: [b3, b3Mid],   title: panelTitles[1], col: 1, row: 2 },
  { runs: [b6, b6Mid],   title: panelTitles[2], col: 0, row: 3 },
  { runs: [b10, b10Mid], title: panelTitles[3], col: 1, row: 3 }
];

// ---- layout ----
const colLeft = [96, 442.5];
const rowTop = [69, 378.5, 718.5, 1033.5];
const pw = 242, ph = 210;
const axisColor = '#262626';
const markColor = '#0072BD';

const svg = d3.select('#fig');

// outer frame (top + left rule)
svg.append('path')
  .attr('d', 'M7,1349V9H715')
  .attr('fill', 'none')
  .attr('stroke', '#1a1a1a')
  .attr('stroke-width', 1.6);

// MATLAB '*' marker: plus + cross
const star = 'M-3.9,0H3.9M0,-3.9V3.9M-2.8,-2.8L2.8,2.8M-2.8,2.8L2.8,-2.8';

const x = d3.scaleLinear().domain([0, 1000]).range([0, pw]);
const y = d3.scaleLinear().domain([0.8, 1.2]).range([ph, 0]);

panels.forEach(p => {
  const g = svg.append('g')
    .attr('transform', `translate(${colLeft[p.col]},${rowTop[p.row]})`);

  // points: flatten the runs into {chip, value}
  const pts = [];
  p.runs.forEach((run, r) => run.forEach((v, i) =>
    pts.push({ chip: i * chipStep + chipOffset[r], value: v })));
  pts.sort((a, b) => a.chip - b.chip);

  g.append('g').selectAll('path')
    .data(pts)
    .enter().append('path')
    .attr('d', star)
    .attr('transform', d => `translate(${x(d.chip)},${y(d.value)})`)
    .attr('fill', 'none')
    .attr('stroke', markColor)
    .attr('stroke-width', 1.55);

  // axes (ticks point inward, box on)
  const styleAxis = sel => {
    sel.select('.domain').remove();
    sel.selectAll('.tick line').attr('stroke', axisColor);
    sel.selectAll('.tick text')
      .attr('fill', axisColor)
      .style('font-size', '20px')
      .style('font-weight', 300);
  };

  g.append('g')
    .attr('transform', `translate(0,${ph})`)
    .call(d3.axisBottom(x).tickValues(xTicks).tickSizeInner(-3).tickSizeOuter(0)
      .tickPadding(11).tickFormat(d3.format('d')))
    .call(styleAxis);
  g.append('g')
    .call(d3.axisLeft(y).tickValues(yTicks).tickSizeInner(-3).tickSizeOuter(0)
      .tickPadding(6).tickFormat(d => String(d)))
    .call(styleAxis);
  g.append('g')
    .call(d3.axisTop(x).tickValues(xTicks).tickSizeInner(-3).tickSizeOuter(0).tickFormat(''))
    .call(styleAxis);
  g.append('g')
    .attr('transform', `translate(${pw},0)`)
    .call(d3.axisRight(y).tickValues(yTicks).tickSizeInner(-3).tickSizeOuter(0).tickFormat(''))
    .call(styleAxis);

  g.append('rect')
    .attr('width', pw).attr('height', ph)
    .attr('fill', 'none')
    .attr('stroke', axisColor)
    .attr('stroke-width', 1);

  // title
  g.append('text')
    .attr('x', pw / 2).attr('y', -12)
    .attr('text-anchor', 'middle')
    .style('font-size', '21px')
    .style('font-weight', 700)
    .attr('fill', '#000')
    .text(p.title);

  // axis labels
  g.append('text')
    .attr('x', pw / 2).attr('y', ph + 55)
    .attr('text-anchor', 'middle')
    .style('font-size', '22px')
    .style('font-weight', 300)
    .attr('fill', axisColor)
    .text('Chip Index');

  g.append('text')
    .attr('transform', `translate(-46,${ph / 2}) rotate(-90)`)
    .attr('text-anchor', 'middle')
    .style('font-size', '22px')
    .style('font-weight', 300)
    .attr('fill', axisColor)
    .text('EM Life Time (year)');
});

// sub-figure labels
svg.append('text').attr('x', 32).attr('y', 669)
  .style('font-size', '21px').style('font-weight', 700).attr('fill', '#000')
  .text(figureLabels[0]);
svg.append('text').attr('x', 32).attr('y', 1317)
  .style('font-size', '21px').style('font-weight', 700).attr('fill', '#000')
  .text(figureLabels[1]);
</script>
</body>
</html>
